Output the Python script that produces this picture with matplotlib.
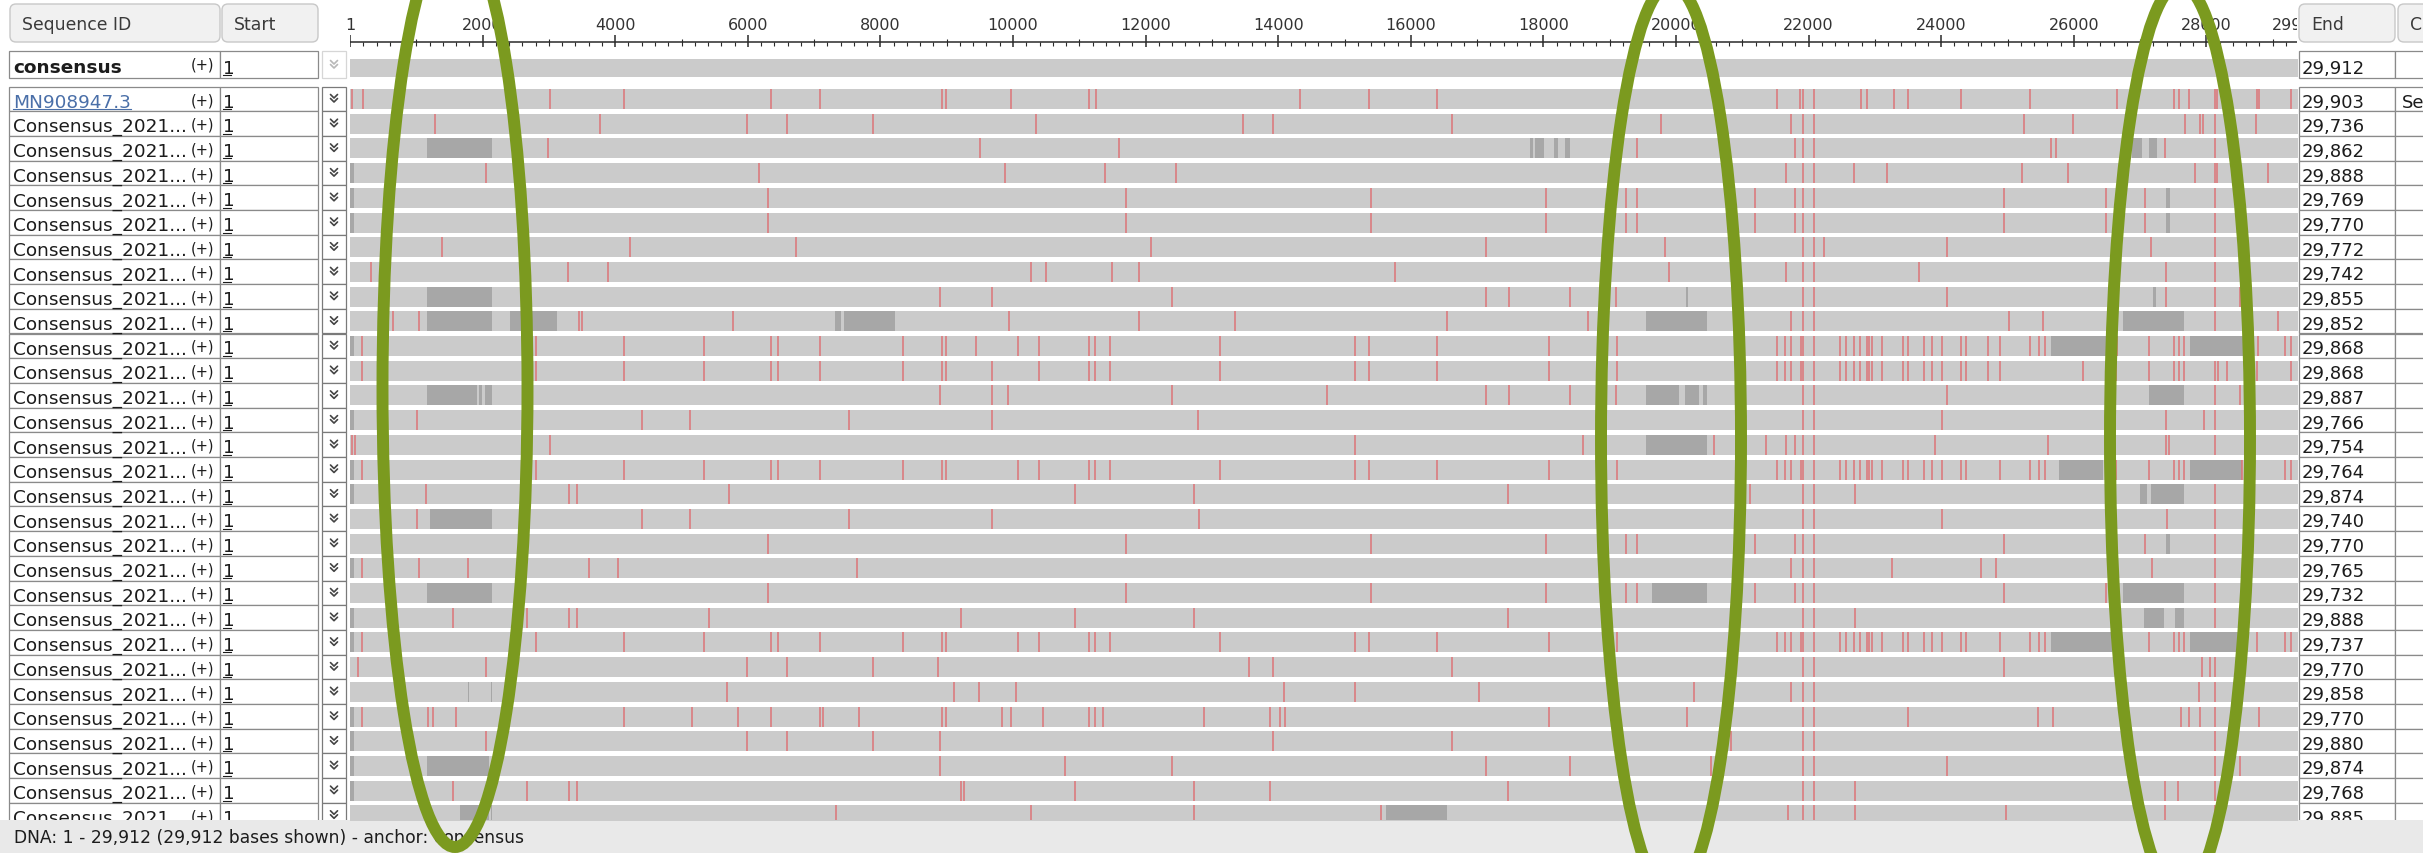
import matplotlib.pyplot as plt
from matplotlib.patches import Rectangle, FancyBboxPatch, Ellipse

W, H = 2423, 854

# alignment summary: consensus on top, then one row per sequence
genome_len = 29912
seq_ids = ['MN908947.3'] + ['Consensus_2021...'] * 29
seq_start = [1] * 30
seq_end = [29903, 29736, 29862, 29888, 29769, 29770, 29772, 29742, 29855, 29852,
           29868, 29868, 29887, 29766, 29754, 29764, 29874, 29740, 29770, 29765,
           29732, 29888, 29737, 29770, 29858, 29770, 29880, 29874, 29768, 29885]

# positions (bases) that differ from the consensus, per row
variants = [
    [30, 198, 3023, 4140, 6356, 7086, 8927, 8990, 9970, 11145, 11253, 14331, 15366, 16395,
     21517, 21875, 21913, 22079, 22796, 22879, 23295, 23499, 24299, 25341, 26652, 27516,
     27593, 27740, 28123, 28156, 28763, 28795, 29275],
    [1277, 3766, 5988, 6597, 7892, 10351, 13475, 13925, 16623, 19777, 21728, 21913, 22079,
     25245, 25994, 27676, 27900, 27951, 28136, 28744],
    [2991, 9498, 11602, 19410, 21792, 21913, 22079, 25661, 25738, 27375, 28123],
    [2058, 6165, 9875, 11386, 12452, 21664, 21913, 22079, 22687, 23179, 25213, 25917, 27823,
     28136, 28155, 28923],
    [6305, 11703, 15398, 18045, 19251, 19410, 21197, 21792, 21913, 22079, 24945, 26493, 27081, 28136],
    [6305, 11703, 15398, 18045, 19251, 19410, 21197, 21792, 21913, 22079, 24945, 26493, 27081, 28136],
    [1385, 4216, 6724, 12078, 17131, 19841, 21913, 22079, 22239, 24094, 27164, 28136],
    [312, 3283, 3893, 10269, 10497, 11494, 11894, 15766, 19892, 21664, 21913, 22079, 23666,
     27388, 28136],
    [8895, 9676, 12402, 17131, 17480, 18394, 19092, 21913, 22079, 24094, 27388, 28136, 28507],
    [643, 1036, 3455, 3499, 5772, 9939, 11894, 13341, 16541, 18680, 21728, 21913, 22079,
     25022, 25533, 28136, 29083],
    [185, 2801, 4140, 5340, 6356, 6451, 7086, 8343, 8927, 8990, 9435, 10078, 10396, 11145,
     11240, 11462, 13125, 15163, 15366, 16395, 18077, 19111, 21517, 21645, 21728, 21887,
     21913, 22079, 22476, 22559, 22687, 22770, 22879, 22917, 22962, 23103, 23423, 23499,
     23742, 23857, 24011, 24305, 24369, 24702, 24894, 25341, 25469, 25565, 26652, 27132,
     27516, 27593, 27657, 28782, 29179, 29275],
    [185, 2801, 4140, 5340, 6356, 6451, 7086, 8343, 8927, 8990, 9688, 10396, 11145, 11240,
     11462, 13125, 15163, 15366, 16395, 18077, 19111, 21517, 21645, 21728, 21887, 21913,
     22079, 22476, 22559, 22687, 22770, 22879, 22917, 22962, 23103, 23423, 23499, 23742,
     23857, 24011, 24305, 24369, 24702, 24894, 26141, 26633, 27132, 27516, 27593, 27657,
     28136, 28168, 28315, 28763, 29275],
    [8895, 9676, 9920, 12402, 14731, 17131, 17480, 18394, 19092, 21913, 22079, 24094, 28136, 28507],
    [1011, 4407, 5130, 7530, 9676, 12795, 21913, 22079, 24011, 27388, 27964, 28136],
    [27, 71, 3010, 15163, 18604, 20576, 21363, 21664, 21792, 21913, 22079, 23902, 25610,
     27388, 27439, 28136],
    [185, 2801, 4140, 5340, 6356, 6451, 7086, 8343, 8927, 8990, 10078, 10396, 11145, 11240,
     11462, 13125, 15163, 15366, 16395, 18077, 19111, 21517, 21645, 21728, 21887, 21913,
     22079, 22476, 22559, 22687, 22770, 22879, 22917, 22962, 23103, 23423, 23499, 23742,
     23857, 24011, 24305, 24369, 24894, 25341, 25469, 25565, 26633, 27132, 27516, 27593,
     27657, 28539, 29179, 29275],
    [1150, 3309, 3417, 5721, 10935, 12725, 17461, 21120, 21913, 22079, 22706, 28136],
    [1011, 4407, 5130, 7530, 9676, 12808, 21913, 22079, 24011, 27401, 28136],
    [6305, 11703, 15398, 18045, 19251, 19410, 21197, 21792, 21913, 22079, 24945, 27081, 28136],
    [185, 1036, 1785, 3607, 4039, 7644, 21728, 21913, 22079, 23263, 24593, 24830, 27183, 28136],
    [6305, 11703, 15398, 18045, 19251, 19410, 21197, 21792, 21913, 22079, 24945, 26493, 28136],
    [1550, 2674, 3309, 3417, 5422, 9212, 10935, 12725, 17461, 21913, 22079, 22706, 28136],
    [185, 2801, 4140, 5340, 6356, 6451, 7086, 8343, 8927, 8990, 10078, 10396, 11145, 11240,
     11462, 13125, 15163, 15366, 16395, 18077, 19111, 21517, 21645, 21728, 21887, 21913,
     22079, 22476, 22559, 22687, 22770, 22879, 22917, 22962, 23103, 23423, 23499, 23742,
     23857, 24011, 24305, 24369, 24894, 25341, 25469, 25565, 27132, 27516, 27593, 27657,
     28763, 29179, 29275],
    [116, 2058, 5988, 6597, 7892, 8863, 13557, 13925, 16623, 21913, 22079, 24945, 27932, 28060, 28136],
    [5689, 9104, 9485, 10047, 14084, 15163, 17029, 20276, 21728, 21913, 22079, 27887, 28136],
    [185, 1182, 1246, 1595, 4140, 5162, 5848, 6356, 7086, 7137, 7670, 8927, 8990, 9831, 9970,
     10447, 11145, 11240, 11354, 12878, 13874, 14033, 14109, 18077, 20161, 21913, 22079,
     23499, 25456, 25693, 27612, 27740, 27900, 28136, 28795],
    [2058, 5988, 6597, 7892, 8895, 13925, 16623, 20832, 21913, 22079, 28136],
    [8895, 10777, 12402, 17131, 18394, 20532, 21913, 22079, 24094, 28136, 28507],
    [1550, 2674, 3309, 3417, 9212, 9257, 10935, 12725, 13874, 17461, 21913, 22079, 22706,
     27375, 27567, 28136],
    [7327, 10269, 12725, 15557, 21683, 21913, 22079, 22706, 24970, 27375, 28136],
]

# unresolved stretches (start, end) in bases, per row
gaps = [
    [], [],
    [(1163, 2147), (17797, 17842), (17880, 18007), (18166, 18222), (18331, 18400),
     (26876, 27036), (27132, 27260)],
    [(0, 60)],
    [(0, 60), (27388, 27452)],
    [(0, 60), (27388, 27452)],
    [], [],
    [(1163, 2147), (20150, 20175), (27196, 27247)],
    [(1163, 2147), (2420, 3118), (7308, 7403), (7447, 8216), (19553, 20468), (26736, 27657)],
    [(0, 60), (25661, 26652), (27746, 28571)],
    [],
    [(1163, 1912), (1944, 1988), (2039, 2147), (19553, 20045), (20129, 20352), (20404, 20468),
     (27132, 27657)],
    [(0, 60)],
    [(19553, 20468)],
    [(0, 60), (25776, 26441), (27746, 28539)],
    [(0, 60), (27004, 27100), (27164, 27657)],
    [(1214, 2147)],
    [(27388, 27452)],
    [(0, 60)],
    [(1163, 2147), (19636, 20468), (26736, 27657)],
    [(0, 60), (27055, 27362), (27529, 27657)],
    [(0, 60), (25661, 26569), (27746, 28475)],
    [],
    [(1775, 1795), (2125, 2145)],
    [(0, 60)],
    [(0, 60)],
    [(0, 60), (1163, 2103)],
    [(0, 60)],
    [(1658, 2103), (2130, 2140), (15620, 16541)],
]

ruler_major = [1] + list(range(2000, 29000, 2000))
# the closing ruler label is pinned just left of the scroll edge
ruler_end_label_at = 28990

BAR = '#cbcbcb'
GAP = '#a7a7a7'
RED = '#dd7478'
GREEN = '#7b9a1f'
CELL_EDGE = '#8a8a8a'
TXT = '#1c1c1c'

# layout in screen pixels
TRACK_L, TRACK_R = 350, 2297
ROW0, PITCH, BAR_H = 100, 24.7, 20
TRACK_TOP, STATUS_TOP = 85, 821
PX_PER_BASE = 0.0663
x_max = (TRACK_R - TRACK_L) / PX_PER_BASE
n = len(seq_ids)

fig = plt.figure(figsize=(W / 100, H / 100), dpi=100)
fig.patch.set_facecolor('white')

bg = fig.add_axes([0, 0, 1, 1])
bg.set_xlim(0, W)
bg.set_ylim(H, 0)
bg.axis('off')


def cell(x0, x1, y0, y1, ec=CELL_EDGE, lw=0.9, fc='white'):
    bg.add_patch(Rectangle((x0, y0), x1 - x0, y1 - y0, fc=fc, ec=ec, lw=lw, zorder=1))


def chevron(cx, cy, color):
    for dy in (-4.5, -0.5):
        bg.plot([cx - 3.5, cx, cx + 3.5], [cy + dy, cy + dy + 3.5, cy + dy],
                color=color, lw=1.2, solid_capstyle='round', zorder=2)


def button(x0, x1, label):
    bg.add_patch(FancyBboxPatch((x0, 5), x1 - x0, 38, boxstyle='round,pad=0,rounding_size=6',
                                fc='#f1f1f1', ec='#c8c8c8', lw=1.0, zorder=1))
    bg.text(x0 + 12, 25, label, fontsize=12.4, color='#3a3a3a', va='center', zorder=2)


# column headers
button(10, 220, 'Sequence ID')
button(222, 318, 'Start')
button(2299, 2395, 'End')
button(2398, 2470, 'Co')

# consensus row
cell(9, 220, 52, 79)
cell(220, 318, 52, 79)
cell(322, 346, 52, 79, ec='#d6d6d6')
cell(2299, 2395, 52, 79)
cell(2395, 2470, 52, 79)
chevron(334, 66, '#b8b8b8')
bg.text(13, 73, 'consensus', fontsize=13.3, fontweight='bold', color=TXT, zorder=2)
bg.text(191, 70, '(+)', fontsize=10.5, color=TXT, zorder=2)
bg.text(223, 73.5, '1', fontsize=13.3, color=TXT, zorder=2)
bg.plot([223, 231], [76, 76], color=TXT, lw=0.8, zorder=2)
bg.text(2302, 73.5, f'{genome_len:,}', fontsize=13, color=TXT, zorder=2)

# sequence rows
for i in range(n):
    top = ROW0 - 12.5 + PITCH * i
    base_y = ROW0 + 7.5 + PITCH * i
    cell(9, 220, top, top + PITCH)
    cell(220, 318, top, top + PITCH)
    cell(322, 346, top, top + PITCH, ec='#7a7a7a')
    cell(2299, 2395, top, top + PITCH)
    cell(2395, 2470, top, top + PITCH)
    chevron(334, ROW0 + PITCH * i, '#444444')
    if i == 0:
        bg.text(13, base_y, seq_ids[i], fontsize=13.3, color='#4a6fa8', zorder=2)
        bg.plot([13, 131], [base_y + 2, base_y + 2], color='#4a6fa8', lw=0.8, zorder=2)
        bg.text(2402, base_y, 'Se', fontsize=13, color=TXT, zorder=2)
    else:
        bg.text(13, base_y, seq_ids[i], fontsize=13.3, color=TXT, zorder=2)
    bg.text(191, base_y - 2.5, '(+)', fontsize=10.5, color=TXT, zorder=2)
    bg.text(223, base_y, str(seq_start[i]), fontsize=13.3, color=TXT, zorder=2)
    bg.plot([223, 231], [base_y + 2.5, base_y + 2.5], color=TXT, lw=0.8, zorder=2)
    bg.text(2302, base_y, f'{seq_end[i]:,}', fontsize=13, color=TXT, zorder=2)

# status bar
bg.add_patch(Rectangle((0, STATUS_TOP), W, H - STATUS_TOP, fc='#e9e9e9', ec='none', zorder=5))
bg.text(14, 838, 'DNA: 1 - 29,912 (29,912 bases shown) - anchor: consensus',
        fontsize=12.3, color=TXT, va='center', zorder=6)

# alignment track, x in bases
tr = fig.add_axes([TRACK_L / W, 1 - STATUS_TOP / H, (TRACK_R - TRACK_L) / W,
                   (STATUS_TOP - TRACK_TOP) / H])
tr.patch.set_alpha(0)
tr.set_xlim(0, x_max)
tr.set_ylim((STATUS_TOP - ROW0) / PITCH, (TRACK_TOP - ROW0) / PITCH)
tr.axis('off')
half = BAR_H / PITCH / 2
for i in range(n):
    tr.broken_barh([(0, seq_end[i])], (i - half, 2 * half), color=BAR, lw=0)
    if gaps[i]:
        tr.broken_barh([(a, b - a) for a, b in gaps[i]], (i - half, 2 * half), color=GAP, lw=0)
    tr.vlines(variants[i], i - half, i + half, color=RED, lw=1.1)

# ruler and consensus bar above the track
ru = fig.add_axes([TRACK_L / W, 1 - 82 / H, (TRACK_R - TRACK_L) / W, 82 / H], sharex=tr)
ru.patch.set_alpha(0)
ru.set_ylim(82, 0)
ru.axis('off')
ru.axhline(43, color='#2a2a2a', lw=1.1)
minor = [b for b in range(200, genome_len, 200) if b % 2000 != 0]
ru.vlines([b for b in minor if b % 1000 != 0], 43, 46.5, color='#2a2a2a', lw=0.8)
ru.vlines([b for b in minor if b % 1000 == 0], 40, 47, color='#2a2a2a', lw=0.8)
ru.vlines(ruler_major, 36, 48, color='#2a2a2a', lw=1.1)
for b in ruler_major:
    ru.text(b, 26, str(b), ha='center', va='center', fontsize=11.5, color='#333333')
ru.text(ruler_end_label_at, 26, str(genome_len), ha='left', va='center', fontsize=11.5,
        color='#333333', clip_on=True)
ru.broken_barh([(0, genome_len)], (60, 18), color=BAR, lw=0)

# green highlight rings drawn over everything
ov = fig.add_axes([0, 0, 1, 1], zorder=10)
ov.patch.set_alpha(0)
ov.set_xlim(0, W)
ov.set_ylim(H, 0)
ov.axis('off')
rings = [(455, 389, 145, 918), (1671, 440, 140, 910), (2180, 440, 140, 910)]
for cx, cy, w, h in rings:
    ov.add_patch(Ellipse((cx, cy), w, h, fill=False, ec=GREEN, lw=8.6))

fig.savefig('out.png', dpi=100)
